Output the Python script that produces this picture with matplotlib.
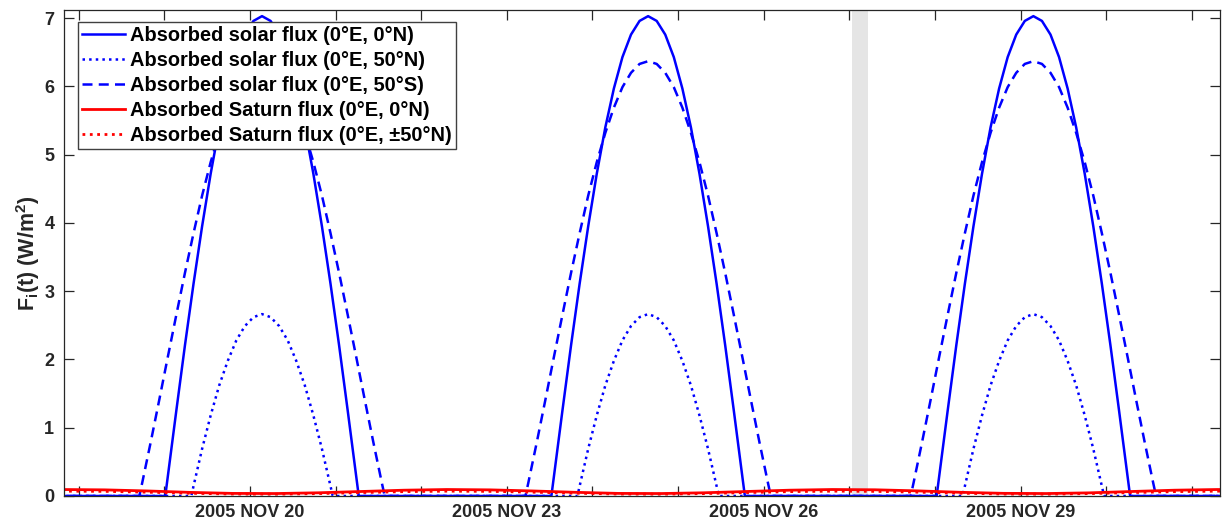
import numpy as np
import matplotlib
matplotlib.use('Agg')
import matplotlib.pyplot as plt
import matplotlib.dates as mdates
from matplotlib.ticker import FixedLocator, FuncFormatter
from datetime import datetime

# times are in days after 2005 NOV 20 00:00
peak_days = [0.14, 4.65, 9.15]

# absorbed solar flux, one day-side arch around each peak (offset in days, W/m^2)
eq_off = [-1.13, -1.1, -1.0, -0.9, -0.8, -0.7, -0.6, -0.5, -0.4, -0.3, -0.2, -0.1, 0.0,
          0.1, 0.2, 0.3, 0.4, 0.5, 0.6, 0.7, 0.8, 0.9, 1.0, 1.1, 1.13]
eq_val = [0.0, 0.29, 1.26, 2.21, 3.11, 3.95, 4.72, 5.40, 5.97, 6.43, 6.76, 6.96, 7.03,
          6.96, 6.76, 6.43, 5.97, 5.40, 4.72, 3.95, 3.11, 2.21, 1.26, 0.29, 0.0]

n50_off = [-0.826, -0.8, -0.7, -0.6, -0.5, -0.4, -0.3, -0.2, -0.1, 0.0,
           0.1, 0.2, 0.3, 0.4, 0.5, 0.6, 0.7, 0.8, 0.826]
n50_val = [0.0, 0.145, 0.69, 1.18, 1.62, 1.98, 2.28, 2.49, 2.62, 2.665,
           2.62, 2.49, 2.28, 1.98, 1.62, 1.18, 0.69, 0.145, 0.0]

s50_off = [-1.433, -1.4, -1.3, -1.2, -1.1, -1.0, -0.9, -0.8, -0.7, -0.6, -0.5, -0.4, -0.3,
           -0.2, -0.1, 0.0, 0.1, 0.2, 0.3, 0.4, 0.5, 0.6, 0.7, 0.8, 0.9, 1.0, 1.1, 1.2,
           1.3, 1.4, 1.433]
s50_val = [0.0, 0.19, 0.79, 1.41, 2.04, 2.66, 3.27, 3.85, 4.40, 4.89, 5.32, 5.69, 5.99,
           6.20, 6.33, 6.37, 6.33, 6.20, 5.99, 5.69, 5.32, 4.89, 4.40, 3.85, 3.27, 2.66,
           2.04, 1.41, 0.79, 0.19, 0.0]

# absorbed Saturn flux, sampled every half day
sat_t = [-2.2, -1.7, -1.2, -0.7, -0.2, 0.3, 0.8, 1.3, 1.8, 2.3, 2.8, 3.3, 3.8, 4.3, 4.8,
         5.3, 5.8, 6.3, 6.8, 7.3, 7.8, 8.3, 8.8, 9.3, 9.8, 10.3, 10.8, 11.3, 11.8]
sat_eq = [0.095, 0.090, 0.074, 0.053, 0.038, 0.036, 0.047, 0.066, 0.085, 0.095, 0.090,
          0.074, 0.054, 0.038, 0.036, 0.047, 0.066, 0.085, 0.095, 0.091, 0.075, 0.054,
          0.039, 0.036, 0.046, 0.066, 0.085, 0.095, 0.090]
sat_50 = [0.071, 0.068, 0.056, 0.040, 0.029, 0.027, 0.035, 0.050, 0.064, 0.071, 0.068,
          0.056, 0.041, 0.029, 0.027, 0.035, 0.050, 0.064, 0.071, 0.068, 0.056, 0.041,
          0.029, 0.027, 0.035, 0.050, 0.064, 0.071, 0.068]

labels = ['Absorbed solar flux (0°E, 0°N)',
          'Absorbed solar flux (0°E, 50°N)',
          'Absorbed solar flux (0°E, 50°S)',
          'Absorbed Saturn flux (0°E, 0°N)',
          'Absorbed Saturn flux (0°E, ±50°N)']

shade = (7.03, 7.22)

base = mdates.date2num(datetime(2005, 11, 20))


def arches(offsets, values):
    # zero at night, one arch per day side
    t = [-2.3]
    v = [0.0]
    for p in peak_days:
        t += [p + o for o in offsets]
        v += list(values)
    t.append(11.5)
    v.append(0.0)
    return base + np.array(t), np.array(v)


plt.rcParams['font.family'] = ['Liberation Sans', 'DejaVu Sans']
plt.rcParams['font.weight'] = 'bold'
plt.rcParams['mathtext.fontset'] = 'custom'
plt.rcParams['mathtext.rm'] = 'Liberation Sans:bold'
plt.rcParams['mathtext.bf'] = 'Liberation Sans:bold'
plt.rcParams['mathtext.it'] = 'Liberation Sans:bold'

fig = plt.figure(figsize=(12.22, 5.25), dpi=100)
ax = fig.add_axes([64 / 1222, 29 / 525, 1156 / 1222, 486 / 525])

ax.axvspan(base + shade[0], base + shade[1], color='#e5e5e5', lw=0, zorder=0)

x, y = arches(eq_off, eq_val)
ax.plot(x, y, '-', color='#0000ff', lw=1.8, label=labels[0])
x, y = arches(n50_off, n50_val)
ax.plot(x, y, ':', color='#0000ff', lw=1.8, label=labels[1])
x, y = arches(s50_off, s50_val)
ax.plot(x, y, color='#0000ff', lw=1.8, dashes=(4, 2.5), label=labels[2])
ax.plot(base + np.array(sat_t), sat_eq, '-', color='#ff0000', lw=2.0, label=labels[3])
ax.plot(base + np.array(sat_t), sat_50, ':', color='#ff0000', lw=2.0, label=labels[4])

ax.set_xlim(base - 2.173, base + 11.33)
ax.set_ylim(0, 7.12)

ax.xaxis.set_major_locator(FixedLocator(base + np.array([0, 3, 6, 9])))
ax.xaxis.set_minor_locator(FixedLocator(base + np.arange(-2, 12)))
ax.xaxis.set_major_formatter(
    FuncFormatter(lambda v, pos: mdates.num2date(v).strftime('%Y %b %d').upper()))
ax.set_yticks(range(0, 8))

ax.tick_params(axis='both', which='both', direction='in', top=True, right=True,
               length=7.5, width=0.9, color='#262626', labelcolor='#262626',
               labelsize=13)
ax.tick_params(axis='x', pad=6)
ax.tick_params(axis='y', pad=7)
for s in ax.spines.values():
    s.set_color('#262626')
    s.set_linewidth(0.9)

ax.set_ylabel(r'F$_\mathbf{i}$(t) (W/m$^\mathbf{2}$)', fontsize=15.5, fontweight='bold',
              color='#262626')
ax.yaxis.set_label_coords(-0.019, 0.5)

leg = ax.legend(loc='upper left', bbox_to_anchor=(0.012, 0.975), borderaxespad=0,
                fontsize=14.4, fancybox=False, framealpha=1, edgecolor='#404040',
                handlelength=2.15, handletextpad=0.25, borderpad=0.2, labelspacing=0.3)
leg.get_frame().set_linewidth(1.0)

fig.savefig('out.png', dpi=100)
